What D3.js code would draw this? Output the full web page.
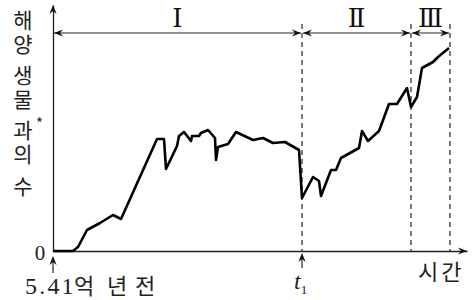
<!DOCTYPE html>
<html><head><meta charset="utf-8">
<script src="https://cdn.jsdelivr.net/npm/d3@7"></script>
<style>body{margin:0;background:#fff}svg{display:block}</style>
</head><body>
<script>
// time (arbitrary units from 5.41억 년 전) and number of marine families (arbitrary units)
const times = [0,20,25,34,47,60,68,104,111,113,124,126,131,138,139,146,148,155,162,163,165,175,183,200,210,220,232,246,249,260,266,268,278,283,288,306,309,315,326,336,344,354,358,364,369,380,385,396];
const families = [0,0,4,21,28,36,32,112,112,82,105,115,119,110,115,115,118,121,113,91,104,107,119,111,113,108,109,101,53,74,70,55,81,81,93,103,120,110,120,147,147,163,144,154,183,189,194,203];
const boundaries = [0,249,358,397];
const periodLabels = ["Ⅰ","Ⅱ","Ⅲ"];
const yLabelWords = ["해양","생물","과의","수"];
const startLabel = ["억","년","전"];
const startLabelX = [74,107,135];

const W=474,H=300;
const svg=d3.select("body").append("svg").attr("width",W).attr("height",H);
const x=d3.scaleLinear().domain([0,414]).range([53,467]);
const y=d3.scaleLinear().domain([0,246]).range([251,5]);

function head(px,py,dir){
  const L=9,hw=3.6,n=3;
  let pts;
  if(dir==='r') pts=[[px,py],[px-L,py-hw],[px-L+n,py],[px-L,py+hw]];
  if(dir==='l') pts=[[px,py],[px+L,py-hw],[px+L-n,py],[px+L,py+hw]];
  if(dir==='u') pts=[[px,py],[px-hw,py+L],[px,py+L-n],[px+hw,py+L]];
  svg.append("path").attr("d","M"+pts.map(p=>p.join(",")).join("L")+"Z").attr("fill","#111");
}

// axes
const gx=svg.append("g").attr("transform",`translate(0,${y(0)})`).call(d3.axisBottom(x).tickValues([]).tickSizeOuter(0));
const gy=svg.append("g").attr("transform",`translate(${x(0)},0)`).call(d3.axisLeft(y).tickValues([]).tickSizeOuter(0));
[gx,gy].forEach(g=>g.select(".domain").attr("stroke","#222").attr("stroke-width",1.3));
head(x(414),y(0),'r');
head(x(0),y(246),'u');

// dashed boundaries
boundaries.slice(1).forEach(b=>{
  svg.append("line").attr("x1",x(b)).attr("x2",x(b)).attr("y1",24).attr("y2",y(0))
    .attr("stroke","#333").attr("stroke-width",1.3).attr("stroke-dasharray","5,4");
});

// period arrows
const ay=33;
for(let i=0;i<3;i++){
  const a=x(boundaries[i]),b=x(boundaries[i+1]);
  svg.append("line").attr("x1",a+1).attr("x2",b-1).attr("y1",ay).attr("y2",ay).attr("stroke","#222").attr("stroke-width",1.2);
  head(a+1,ay,'l'); head(b-1,ay,'r');
  svg.append("text").attr("x",(a+b)/2).attr("y",27).attr("text-anchor","middle")
    .attr("font-family","'Liberation Serif','DejaVu Serif',serif").attr("font-size",26).attr("fill","#111")
    .text(periodLabels[i]);
}

// data line
svg.append("path").datum(times.map((t,i)=>[t,families[i]]))
  .attr("d",d3.line().x(d=>x(d[0])).y(d=>y(d[1])))
  .attr("fill","none").attr("stroke","#000").attr("stroke-width",2.6).attr("stroke-linejoin","round");

// y label (vertical text)
const kfont="'Noto Sans CJK KR','Noto Sans',sans-serif";
const yl=svg.append("text").attr("x",23).attr("y",9.5)
  .style("writing-mode","vertical-rl").style("text-orientation","upright")
  .attr("letter-spacing",2.6)
  .attr("font-family",kfont).attr("font-size",21).attr("fill","#222");
yLabelWords.forEach((w,i)=>{
  yl.append("tspan").attr("dy",i===0?0:8).text(w);
});
svg.append("text").attr("x",36).attr("y",129).attr("font-family",kfont).attr("font-size",15).attr("fill","#222").text("*");

// zero
svg.append("text").attr("x",40).attr("y",260).attr("text-anchor","middle")
  .attr("font-family","'Liberation Serif',serif").attr("font-size",21).attr("fill","#222").text("0");

// origin arrow + label
svg.append("line").attr("x1",x(0)).attr("x2",x(0)).attr("y1",258).attr("y2",273).attr("stroke","#222").attr("stroke-width",1.2);
head(x(0),256,'u');
const t0=svg.append("text").attr("y",294).attr("fill","#222");
t0.append("tspan").attr("x",25).attr("font-family","'Liberation Serif',serif").attr("font-size",24).attr("letter-spacing",2.2).text("5.41");
startLabel.forEach((c,i)=>{
  t0.append("tspan").attr("x",startLabelX[i]).attr("font-family",kfont).attr("font-size",22).text(c);
});

// t1 arrow + label
const tx=x(boundaries[1]);
svg.append("line").attr("x1",tx).attr("x2",tx).attr("y1",256).attr("y2",268).attr("stroke","#222").attr("stroke-width",1.2);
head(tx,253,'u');
const t1=svg.append("text").attr("x",tx-8).attr("y",289).attr("fill","#222")
  .attr("font-family","'Liberation Serif',serif");
t1.append("tspan").attr("font-style","italic").attr("font-size",24).text("t");
t1.append("tspan").attr("font-size",13).attr("dy",5).text("1");

// 시간
svg.append("text").attr("x",418).attr("y",270).attr("dominant-baseline","central").attr("letter-spacing",3)
  .attr("font-family",kfont).attr("font-size",22).attr("fill","#222").text("시간");
</script>
</body></html>
